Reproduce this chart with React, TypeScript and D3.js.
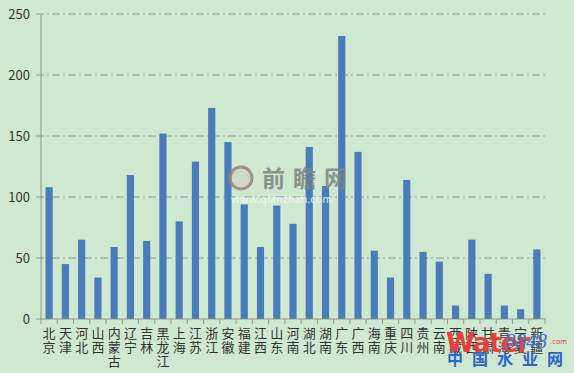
import React from "react";
import * as d3 from "d3";

const provinces = ["北京","天津","河北","山西","内蒙古","辽宁","吉林","黑龙江","上海","江苏","浙江","安徽","福建","江西","山东","河南","湖北","湖南","广东","广西","海南","重庆","四川","贵州","云南","西藏","陕西","甘肃","青海","宁夏","新疆"];
const values = [108,45,65,34,59,118,64,152,80,129,173,145,94,59,93,78,141,109,232,137,56,34,114,55,47,11,65,37,11,8,57];
const yTicks = [0,50,100,150,200,250];

const W = 574, H = 373;
const left = 41, right = 545, top = 14, bottom = 319;

export default function App() {
  const x = d3.scaleBand<string>().domain(provinces).range([left, right]).paddingInner(0.56).paddingOuter(0.28);
  const xs = d3.scaleBand<string>().domain(provinces).range([left, right]);
  const y = d3.scaleLinear().domain([0, 250]).range([bottom, top]);
  const font = "'Noto Sans CJK SC', 'Noto Sans', sans-serif";
  return (
    <svg width={W} height={H} style={{ position: "absolute", left: 0, top: 0 }} fontFamily={font}>
      <rect x={0} y={0} width={W} height={H} fill="#cfe8d0" />
      {yTicks.filter(t => t > 0).map(t => (
        <line key={t} x1={36} x2={546} y1={y(t)} y2={y(t)} stroke="#8a9f9f" strokeWidth={1} strokeDasharray="8,3,2,3" />
      ))}
      {yTicks.map(t => (
        <text key={t} x={30} y={y(t)} dy="0.35em" textAnchor="end" fontSize={13} fill="#333">{t}</text>
      ))}
      {provinces.map((p, i) => (
        <rect key={p} x={x(p)} y={y(values[i])} width={x.bandwidth()} height={bottom - y(values[i])} fill="#4a7bbb" />
      ))}
      <line x1={left} x2={left} y1={top} y2={bottom} stroke="#8a9a8a" />
      <line x1={36} x2={right + 1} y1={bottom} y2={bottom} stroke="#8a9a8a" />
      {provinces.map((p) => (
        <line key={"t" + p} x1={xs(p)!} x2={xs(p)!} y1={bottom} y2={bottom + 5} stroke="#8a9a8a" />
      ))}
      <line x1={right} x2={right} y1={bottom} y2={bottom + 5} stroke="#8a9a8a" />
      {provinces.map(p => (
        <text key={"l" + p} x={xs(p)! + xs.bandwidth() / 2} textAnchor="middle" fontSize={13} fill="#333">
          {Array.from(p).map((c, j) => (
            <tspan key={j} x={xs(p)! + xs.bandwidth() / 2} y={338 + j * 14}>{c}</tspan>
          ))}
        </text>
      ))}
      {/* watermark 前瞻网 */}
      <g opacity={0.85}>
        <circle cx={241} cy={178} r={11} fill="#c8c0b8" fillOpacity={0.4} stroke="#a0807a" strokeWidth={3} />
        <text x={262} y={187} fontSize={23} fontWeight="bold" fill="#7d8582" letterSpacing={8}>前瞻网</text>
        <text x={231} y={203} fontSize={11} fill="#f4f8f4">www.qianzhan.com</text>
      </g>
      {/* watermark water8848 */}
      <g>
        <text x={446} y={352} fontSize={26} fontWeight="bold" fill="#e8403a" fontFamily="'DejaVu Sans', sans-serif" letterSpacing={-1}>Water</text>
        <text x={505} y={348} fontSize={21} fontStyle="italic" fill="#3b6fd0" fontFamily="'Liberation Serif', serif">8848</text>
        <text x={550} y={344} fontSize={7} fill="#e8403a" fontFamily="'DejaVu Sans', sans-serif">.com</text>
        <text x={447} y={365} fontSize={16} fontWeight="bold" fill="#2a66d0" letterSpacing={9}>中国水业网</text>
      </g>
    </svg>
  );
}
